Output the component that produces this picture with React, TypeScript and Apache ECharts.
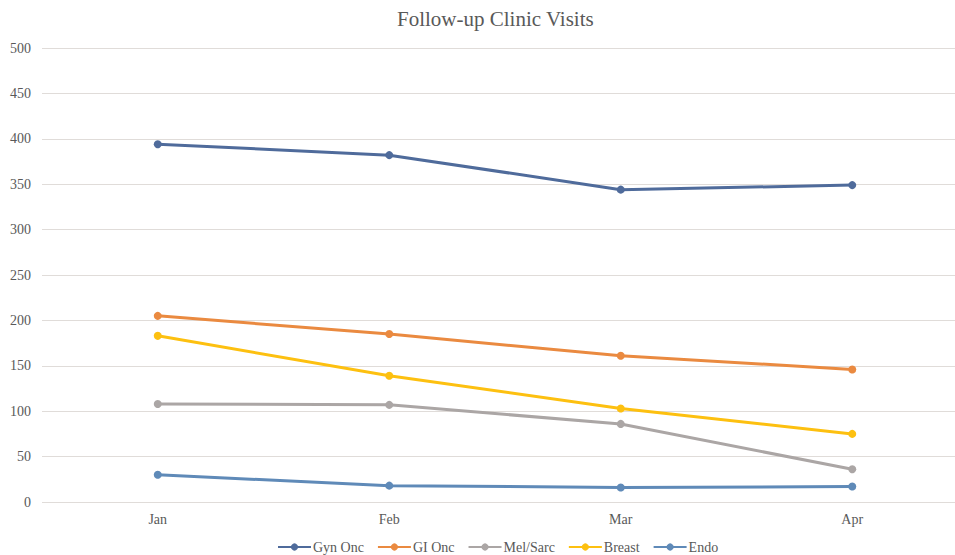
import React, { useEffect, useRef } from "react";
import * as echarts from "echarts";

const categories = ["Jan", "Feb", "Mar", "Apr"];
const seriesNames = ["Gyn Onc", "GI Onc", "Mel/Sarc", "Breast", "Endo"];
const gynOnc = [394, 382, 344, 349];
const giOnc = [205, 185, 161, 146];
const melSarc = [108, 107, 86, 36];
const breast = [183, 139, 103, 75];
const endo = [30, 18, 16, 17];
const colors = ["#4f6b9b", "#ea8a40", "#aba6a5", "#fdc010", "#5f8ab8"];

const FONT = "'Times New Roman', 'Liberation Serif', serif";

export default function App() {
  const ref = useRef<HTMLDivElement>(null);
  useEffect(() => {
    if (!ref.current) return;
    const chart = echarts.init(ref.current, undefined, { renderer: "svg" });
    const data = [gynOnc, giOnc, melSarc, breast, endo];
    chart.setOption({
      animation: false,
      backgroundColor: "#ffffff",
      color: colors,
      textStyle: { fontFamily: FONT },
      title: {
        text: "Follow-up Clinic Visits",
        left: 392,
        top: 3,
        textStyle: { fontFamily: FONT, fontSize: 21, fontWeight: "normal", color: "#595959" },
      },
      legend: {
        top: 540,
        left: 277,
        padding: 0,
        itemWidth: 33,
        itemHeight: 9,
        itemGap: 13,
        textStyle: { fontFamily: FONT, fontSize: 14, color: "#595959", padding: [0, 0, 0, -3] },
        data: seriesNames,
      },
      grid: {
        left: 42,
        width: 926,
        top: 48,
        height: 454,
        containLabel: false,
        outerBoundsMode: "none",
      },
      xAxis: {
        type: "category",
        data: categories,
        boundaryGap: true,
        axisLine: { show: false },
        axisTick: { show: false },
        axisLabel: { fontFamily: FONT, fontSize: 14, color: "#595959", margin: 10 },
      },
      yAxis: {
        type: "value",
        min: 0,
        max: 500,
        interval: 50,
        axisLine: { show: false },
        axisTick: { show: false },
        axisLabel: { fontFamily: FONT, fontSize: 14, color: "#595959", margin: 11 },
        splitLine: { lineStyle: { color: "#e0dcd9", width: 1 } },
      },
      series: seriesNames.map((name, i) => ({
        name,
        type: "line",
        data: data[i],
        symbol: "circle",
        symbolSize: 8,
        lineStyle: { width: 3, color: colors[i] },
        itemStyle: { color: colors[i] },
      })),
    });
    return () => chart.dispose();
  }, []);
  return (
    <div style={{ position: "fixed", left: 0, top: 0, width: 955, height: 555, overflow: "hidden" }}>
      <div ref={ref} style={{ width: 980, height: 555 }} />
    </div>
  );
}
